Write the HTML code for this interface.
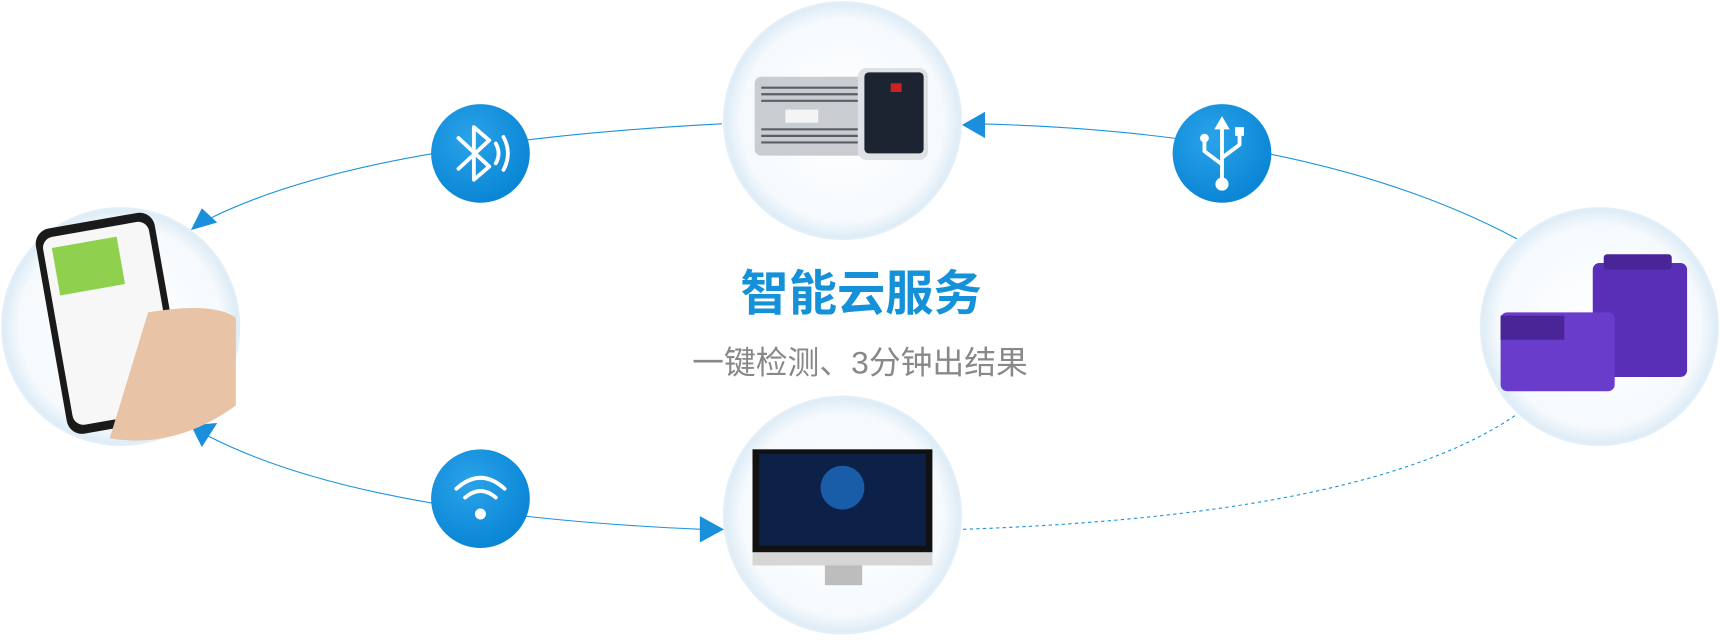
<!DOCTYPE html>
<html><head><meta charset="utf-8"><style>
html,body{margin:0;padding:0;background:#fff;width:1720px;height:640px;overflow:hidden}
svg{display:block}
</style></head><body>
<svg width="1720" height="640" viewBox="0 0 1568 584" preserveAspectRatio="none" xmlns="http://www.w3.org/2000/svg">
<defs>
<radialGradient id="cg" cx="50%" cy="50%" r="50%">
<stop offset="0%" stop-color="#ffffff"/><stop offset="85%" stop-color="#f6fafd"/><stop offset="100%" stop-color="#dcebf6"/>
</radialGradient>
<radialGradient id="bg" cx="40%" cy="35%" r="65%">
<stop offset="0%" stop-color="#2aa3e8"/><stop offset="100%" stop-color="#0a86d6"/>
</radialGradient>
</defs>
<g fill="none" stroke="#1a93dd" stroke-width="1">
<path d="M658,113 Q330,130 190,200"/>
<path d="M1383,218 Q1200,120 890,113"/>
<path d="M190,398 Q330,470 640,483"/>
<path d="M878,483 Q1250,470 1383,378" stroke-dasharray="3,3"/>
</g>
<g fill="#1a8fdc">
<polygon points="174,210 184,190 198,203"/>
<polygon points="877,114 898,102 898,126"/>
<polygon points="174,388 198,386 184,408"/>
<polygon points="660,483 638,471 638,495"/>
</g>
<g fill="url(#cg)" stroke="#e3eff8" stroke-width="2">
<circle cx="768" cy="110" r="108"/>
<circle cx="768" cy="470" r="108"/>
<circle cx="110" cy="298" r="108"/>
<circle cx="1458" cy="298" r="108"/>
</g>
<!-- device -->
<rect x="688" y="70" width="100" height="72" rx="6" fill="#c9ccd0"/>
<g stroke="#5a5f65" stroke-width="2">
<line x1="694" y1="80" x2="784" y2="80"/><line x1="694" y1="86" x2="784" y2="86"/><line x1="694" y1="92" x2="784" y2="92"/>
<line x1="694" y1="118" x2="784" y2="118"/><line x1="694" y1="124" x2="784" y2="124"/><line x1="694" y1="130" x2="784" y2="130"/>
</g>
<rect x="716" y="100" width="30" height="12" fill="#f4f4f4"/>
<rect x="782" y="62" width="64" height="84" rx="8" fill="#dfe2e5"/>
<rect x="788" y="66" width="54" height="74" rx="4" fill="#1b2430"/>
<rect x="812" y="76" width="10" height="8" fill="#c22"/>
<!-- monitor -->
<rect x="686" y="410" width="164" height="94" fill="#111"/>
<rect x="692" y="414" width="152" height="84" fill="#0d2148"/>
<circle cx="768" cy="445" r="20" fill="#1d6bc0" opacity="0.8"/>
<rect x="686" y="504" width="164" height="12" fill="#d6d6d6"/>
<rect x="752" y="516" width="34" height="18" fill="#bdbdbd"/>
<!-- phone -->
<rect x="46" y="200" width="110" height="190" rx="14" fill="#1a1a1a" transform="rotate(-10 101 295)"/>
<rect x="52" y="208" width="98" height="174" rx="10" fill="#f7f7f7" transform="rotate(-10 101 295)"/>
<rect x="60" y="218" width="60" height="44" fill="#8fd14f" transform="rotate(-10 101 295)"/>
<path d="M135,285 Q195,275 215,290 L215,370 Q160,410 100,400 Z" fill="#e8c3a6"/>
<!-- purple boxes -->
<rect x="1452" y="240" width="86" height="104" rx="6" fill="#5a2fb8"/>
<rect x="1462" y="232" width="62" height="14" rx="3" fill="#4a2598"/>
<rect x="1368" y="285" width="104" height="72" rx="6" fill="#6a3ccc"/>
<rect x="1368" y="288" width="58" height="22" fill="#4a2598"/>
<!-- icons -->
<circle cx="438" cy="140" r="45" fill="url(#bg)"/>
<circle cx="1114" cy="140" r="45" fill="url(#bg)"/>
<circle cx="438" cy="455" r="45" fill="url(#bg)"/>
<g fill="none" stroke="#fff" stroke-width="3.5" stroke-linecap="round" stroke-linejoin="round">
<path d="M418,126 L446,152 L432,164 L432,116 L446,128 L418,154"/>
<path d="M452,131 Q457,140 452,149"/><path d="M459,125 Q467,140 459,155"/>
<path d="M1114,112 L1114,168"/><path d="M1114,150 L1098,138 L1098,128"/><path d="M1114,144 L1130,132 L1130,122"/>
<path d="M416,446 Q438,426 460,446"/><path d="M424,454 Q438,442 452,454"/>
</g>
<polygon points="1114,106 1107,118 1121,118" fill="#fff"/>
<circle cx="1098" cy="126" r="4" fill="#fff"/><rect x="1126" y="116" width="8" height="8" fill="#fff"/>
<circle cx="1114" cy="168" r="6" fill="#fff"/>
<circle cx="438" cy="469" r="5" fill="#fff"/>
<text x="785" y="283" text-anchor="middle" font-family="Liberation Sans, Noto Sans CJK SC, sans-serif" font-size="44" font-weight="bold" fill="#1591d9">智能云服务</text>
<text x="784" y="341" text-anchor="middle" font-family="Liberation Sans, Noto Sans CJK SC, sans-serif" font-size="29" fill="#888">一键检测、3分钟出结果</text>
</svg>
</body></html>
